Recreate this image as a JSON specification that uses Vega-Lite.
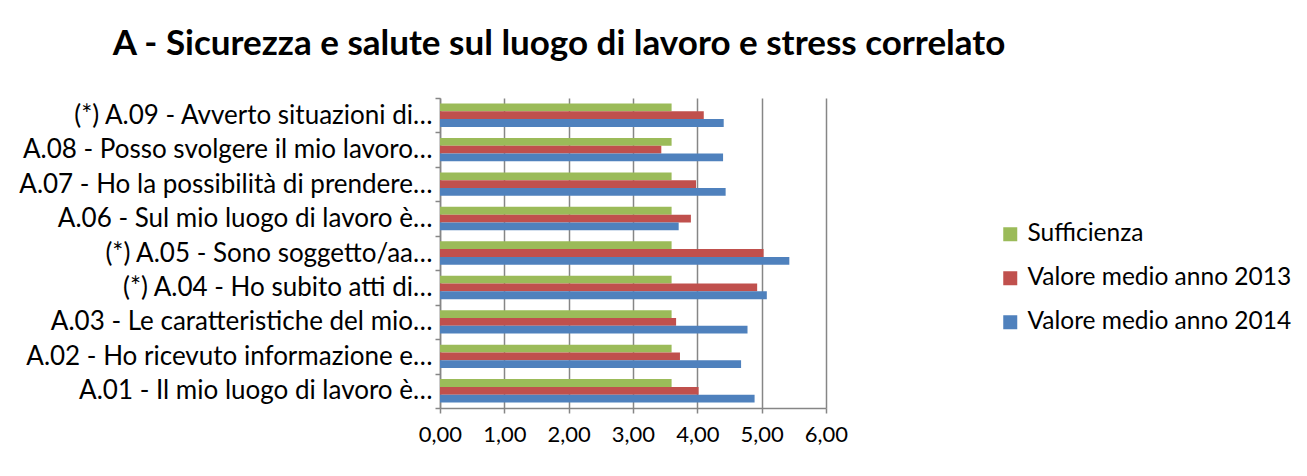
{
  "$schema": "https://vega.github.io/schema/vega-lite/v6.json",
  "autosize": {"type": "none"},
  "width": 386,
  "height": 310,
  "padding": {"left": 440, "top": 98, "right": 481, "bottom": 68},
  "background": "white",
  "title": {
    "text": "A - Sicurezza e salute sul luogo di lavoro e stress correlato",
    "font": "Lato",
    "fontSize": 35,
    "fontWeight": "bold",
    "color": "#000000",
    "anchor": "middle",
    "dx": -74,
    "offset": 23
  },
  "config": {
    "view": {"stroke": null},
    "font": "Lato"
  },
  "data": {
    "values": [
      {"domanda": "(*) A.09 - Avverto situazioni di…", "serie": "Sufficienza", "valore": 3.6},
      {"domanda": "(*) A.09 - Avverto situazioni di…", "serie": "Valore medio anno 2013", "valore": 4.1},
      {"domanda": "(*) A.09 - Avverto situazioni di…", "serie": "Valore medio anno 2014", "valore": 4.41},
      {"domanda": "A.08 - Posso svolgere il mio lavoro…", "serie": "Sufficienza", "valore": 3.6},
      {"domanda": "A.08 - Posso svolgere il mio lavoro…", "serie": "Valore medio anno 2013", "valore": 3.44},
      {"domanda": "A.08 - Posso svolgere il mio lavoro…", "serie": "Valore medio anno 2014", "valore": 4.4},
      {"domanda": "A.07 - Ho la possibilità di prendere…", "serie": "Sufficienza", "valore": 3.6},
      {"domanda": "A.07 - Ho la possibilità di prendere…", "serie": "Valore medio anno 2013", "valore": 3.98},
      {"domanda": "A.07 - Ho la possibilità di prendere…", "serie": "Valore medio anno 2014", "valore": 4.44},
      {"domanda": "A.06 - Sul mio luogo di lavoro è…", "serie": "Sufficienza", "valore": 3.6},
      {"domanda": "A.06 - Sul mio luogo di lavoro è…", "serie": "Valore medio anno 2013", "valore": 3.9},
      {"domanda": "A.06 - Sul mio luogo di lavoro è…", "serie": "Valore medio anno 2014", "valore": 3.71},
      {"domanda": "(*) A.05 - Sono soggetto/aa…", "serie": "Sufficienza", "valore": 3.6},
      {"domanda": "(*) A.05 - Sono soggetto/aa…", "serie": "Valore medio anno 2013", "valore": 5.03},
      {"domanda": "(*) A.05 - Sono soggetto/aa…", "serie": "Valore medio anno 2014", "valore": 5.43},
      {"domanda": "(*) A.04 - Ho subito atti di…", "serie": "Sufficienza", "valore": 3.6},
      {"domanda": "(*) A.04 - Ho subito atti di…", "serie": "Valore medio anno 2013", "valore": 4.93},
      {"domanda": "(*) A.04 - Ho subito atti di…", "serie": "Valore medio anno 2014", "valore": 5.08},
      {"domanda": "A.03 - Le caratteristiche del mio…", "serie": "Sufficienza", "valore": 3.6},
      {"domanda": "A.03 - Le caratteristiche del mio…", "serie": "Valore medio anno 2013", "valore": 3.67},
      {"domanda": "A.03 - Le caratteristiche del mio…", "serie": "Valore medio anno 2014", "valore": 4.78},
      {"domanda": "A.02 - Ho ricevuto informazione e…", "serie": "Sufficienza", "valore": 3.6},
      {"domanda": "A.02 - Ho ricevuto informazione e…", "serie": "Valore medio anno 2013", "valore": 3.73},
      {"domanda": "A.02 - Ho ricevuto informazione e…", "serie": "Valore medio anno 2014", "valore": 4.68},
      {"domanda": "A.01 - Il mio luogo di lavoro è…", "serie": "Sufficienza", "valore": 3.6},
      {"domanda": "A.01 - Il mio luogo di lavoro è…", "serie": "Valore medio anno 2013", "valore": 4.02},
      {"domanda": "A.01 - Il mio luogo di lavoro è…", "serie": "Valore medio anno 2014", "valore": 4.89}
    ]
  },
  "mark": {"type": "bar"},
  "encoding": {
    "y": {
      "field": "domanda",
      "type": "nominal",
      "sort": null,
      "scale": {"paddingInner": 0, "paddingOuter": 0},
      "axis": {
        "title": null,
        "labelFont": "Lato",
        "labelFontSize": 26,
        "labelColor": "#000000",
        "labelLimit": 440,
        "labelPadding": 3,
        "ticks": true,
        "tickBand": "extent",
        "tickSize": 5,
        "tickColor": "#868686",
        "tickWidth": 1.5,
        "domainColor": "#868686",
        "domainWidth": 1.5,
        "grid": false
      }
    },
    "yOffset": {
      "field": "serie",
      "type": "nominal",
      "sort": ["Sufficienza", "Valore medio anno 2013", "Valore medio anno 2014"],
      "scale": {"paddingInner": 0, "paddingOuter": 0.71}
    },
    "x": {
      "field": "valore",
      "type": "quantitative",
      "scale": {"domain": [0, 6], "nice": false},
      "axis": {
        "title": null,
        "values": [0, 1, 2, 3, 4, 5, 6],
        "labelExpr": "replace(format(datum.value, '.2f'), '.', ',')",
        "labelFont": "Lato",
        "labelFontSize": 22,
        "labelColor": "#000000",
        "labelPadding": 11,
        "labelOverlap": false,
        "labelFlush": false,
        "ticks": true,
        "tickSize": 5,
        "tickColor": "#868686",
        "tickWidth": 1.5,
        "domain": true,
        "domainColor": "#868686",
        "domainWidth": 1.5,
        "grid": true,
        "gridColor": "#868686",
        "gridWidth": 1.5
      }
    },
    "color": {
      "field": "serie",
      "type": "nominal",
      "scale": {
        "domain": ["Sufficienza", "Valore medio anno 2013", "Valore medio anno 2014"],
        "range": ["#9BBB59", "#C0504D", "#4F81BD"]
      },
      "legend": {
        "title": null,
        "orient": "none",
        "legendX": 558,
        "legendY": 124,
        "symbolType": "square",
        "symbolSize": 196,
        "symbolStrokeWidth": 0,
        "labelFont": "Lato",
        "labelFontSize": 24.5,
        "labelColor": "#000000",
        "labelLimit": 400,
        "rowPadding": 19,
        "labelOffset": 5
      }
    }
  }
}
